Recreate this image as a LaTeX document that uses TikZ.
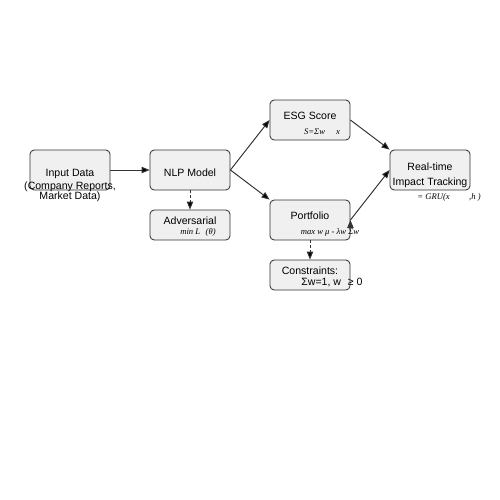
\documentclass[tikz,border=0pt]{standalone}
\usepackage{fontspec}
\setmainfont{Liberation Sans}
\newfontfamily\formfont{Liberation Serif}
\usetikzlibrary{arrows.meta}

\begin{document}
\begin{tikzpicture}[x=0.72pt, y=-0.72pt, node distance=39.6pt, >={Triangle[length=5.8pt,width=4.6pt]}]
    \tikzstyle{block}=[draw=black!80, fill=black!6, rounded corners=3pt, line width=0.6pt, minimum width=57.6pt, minimum height=28.8pt, inner sep=1pt, font=\fontsize{7.6}{10.8}\selectfont];
    \tikzstyle{small}=[block, minimum height=21.6pt];
    \tikzstyle{raised}=[text depth=5.8pt];
    \tikzstyle{lowered}=[text height=9.9pt, text depth=0pt];
    \tikzstyle{formula}=[inner sep=0pt, font=\formfont\itshape\fontsize{6.2}{7}\selectfont];
    \tikzstyle{note}=[inner sep=0pt, align=center, font=\fontsize{7.6}{7.2}\selectfont];
    \useasboundingbox (0,0) rectangle (500,500);

    \node[block, lowered] (input) at (70,170) {Input Data};
    \node[block, lowered] (nlp) at (190,170) {NLP Model};
    \node[small, raised, below of=nlp] (adv) {Adversarial};
    \node[block, raised] (esg) at (310,120) {ESG Score};
    \node[block, raised] (port) at (310,220) {Portfolio};
    \node[small, raised, below of=port] (cons) {Constraints:};
    \node[block, align=center] (track) at (430,170) {\rule{0pt}{12.7pt}Real-time\\Impact Tracking};

    \node[note] (inputnote) at (70,192) {(Company Reports,\\Market Data)};
    \node[note] (consnote) at (332,282) {Σw=1, w\hspace{5pt}≥ 0};
    \node[formula] (advf) at (198,232) {min L\hspace{4pt}(θ)};
    \node[formula] (esgf) at (322,132) {S=Σw\hspace{8pt}x};
    \node[formula] (portf) at (330,232) {max w μ - λw Σw};
    \node[formula] (trackf) at (449,197) {= GRU(x\hspace{14pt},h )};

    \path[->, draw=black!80, line width=0.7pt]
    (input) edge (nlp)
    (nlp.east) edge (esg.west)
    (nlp.east) edge (port.north west)
    (esg.east) edge (track.north west)
    (port.east) edge (track.west)
    (nlp) edge[dash pattern=on 2pt off 1.5pt] (adv)
    (port) edge[dash pattern=on 2pt off 1.5pt] (cons);
\end{tikzpicture}
\end{document}
